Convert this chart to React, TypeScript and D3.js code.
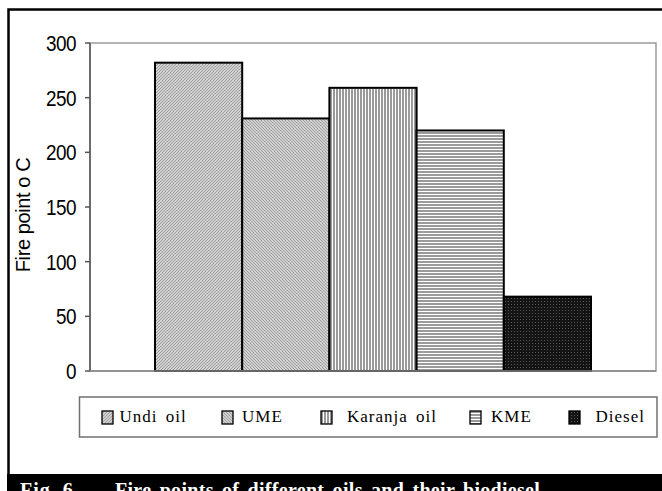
import React from 'react';
import * as d3 from 'd3';

const categories = ['Undi oil', 'UME', 'Karanja oil', 'KME', 'Diesel'];
const firePoint = [282, 231, 259, 220, 68];
const yTicks = [0, 50, 100, 150, 200, 250, 300];
const yLabel = 'Fire point o C';
const captionNum = 'Fig. 6';
const captionText = 'Fire points of different oils and their biodiesel';

const patternIds = ['pUndi', 'pUme', 'pKar', 'pKme', 'pDie'];
const legendSwatchX = [102, 222, 321, 470, 569];
const legendTextX = [119.5, 242, 347, 491, 595.5];

export default function App() {
  const W = 662, H = 491;
  const plot = { l: 90, r: 656, t: 43, b: 371 };
  const y = d3.scaleLinear().domain([0, 300]).range([plot.b, plot.t]);
  const cx = (plot.l + plot.r) / 2;
  const groupW = 436;
  const x = d3.scaleBand<string>().domain(categories).range([cx - groupW / 2, cx + groupW / 2]).padding(0);

  return (
    <svg width={W} height={H} style={{ position: 'absolute', left: 0, top: 0, background: '#fff' }}>
      <defs>
        <pattern id="pUndi" width={3} height={3} patternUnits="userSpaceOnUse">
          <rect width={3} height={3} fill="#d0d0d0" />
          <path d="M0,3 L3,0 M-1,1 L1,-1 M2,4 L4,2" stroke="#9a9a9a" strokeWidth={0.9} />
        </pattern>
        <pattern id="pUme" width={3} height={3} patternUnits="userSpaceOnUse">
          <rect width={3} height={3} fill="#d0d0d0" />
          <path d="M0,0 L3,3 M2,-1 L4,1 M-1,2 L1,4" stroke="#9a9a9a" strokeWidth={0.9} />
        </pattern>
        <pattern id="pKar" width={3} height={10} patternUnits="userSpaceOnUse">
          <rect width={3} height={10} fill="#ffffff" />
          <rect width={2} height={10} fill="#9a9a9a" />
        </pattern>
        <pattern id="pKme" width={10} height={3} patternUnits="userSpaceOnUse">
          <rect width={10} height={3} fill="#ffffff" />
          <rect width={10} height={2} fill="#9a9a9a" />
        </pattern>
        <pattern id="pDie" width={3} height={3} patternUnits="userSpaceOnUse">
          <rect width={3} height={3} fill="#141414" />
          <rect x={1} y={1} width={1} height={1} fill="#555555" />
        </pattern>
      </defs>

      {/* outer frame */}
      <rect x={8.5} y={9.5} width={700} height={470} fill="#fff" stroke="#000" strokeWidth={2.5} />

      {/* plot border */}
      <rect x={plot.l} y={plot.t} width={plot.r - plot.l} height={plot.b - plot.t} fill="#fff" stroke="#9a9a9a" strokeWidth={1.5} />

      {/* bars */}
      {categories.map((c, i) => (
        <rect key={c}
          x={x(c)!} y={y(firePoint[i])}
          width={x.bandwidth()} height={plot.b - y(firePoint[i])}
          fill={`url(#${patternIds[i]})`} stroke="#000" strokeWidth={2} />
      ))}

      {/* axes */}
      <line x1={plot.l} x2={plot.l} y1={plot.t} y2={plot.b} stroke="#555" strokeWidth={1.5} />
      <line x1={plot.l} x2={plot.r} y1={plot.b} y2={plot.b} stroke="#888" strokeWidth={1.5} />
      {yTicks.map(t => (
        <g key={t}>
          <line x1={plot.l - 5} x2={plot.l} y1={y(t)} y2={y(t)} stroke="#555" strokeWidth={1.5} />
          <text transform={`translate(${plot.l - 14},${y(t)}) scale(0.86,1)`} dy="0.36em" textAnchor="end"
            fontFamily="'Liberation Sans', Arial, sans-serif" fontSize={22} letterSpacing={-0.6} fill="#000">{t}</text>
        </g>
      ))}
      <text transform={`translate(30,${(plot.t + plot.b) / 2 + 8}) rotate(-90)`} textAnchor="middle"
        fontFamily="'Liberation Sans', Arial, sans-serif" fontSize={20} letterSpacing={-0.4} fill="#000">{yLabel}</text>

      {/* legend */}
      <rect x={79.5} y={397} width={577.5} height={40} fill="#fff" stroke="#707070" strokeWidth={1.5} />
      {categories.map((c, i) => (
        <g key={c}>
          <rect x={legendSwatchX[i]} y={411} width={11} height={13} fill={`url(#${patternIds[i]})`} stroke="#000" strokeWidth={1.3} />
          <text x={legendTextX[i]} y={422} fontFamily="'Liberation Serif', 'Times New Roman', serif" fontSize={17}
            letterSpacing={1} wordSpacing={3} fill="#000">{c}</text>
        </g>
      ))}

      {/* caption bar */}
      <rect x={7} y={474} width={660} height={20} fill="#000" />
      <text x={20} y={497} fontFamily="'Liberation Serif', 'Times New Roman', serif" fontWeight="bold" fontSize={20}
        letterSpacing={1} fill="#fff">{captionNum}</text>
      <text x={115} y={497} fontFamily="'Liberation Serif', 'Times New Roman', serif" fontWeight="bold" fontSize={20}
        letterSpacing={0.3} wordSpacing={3} fill="#fff">{captionText}</text>
    </svg>
  );
}
